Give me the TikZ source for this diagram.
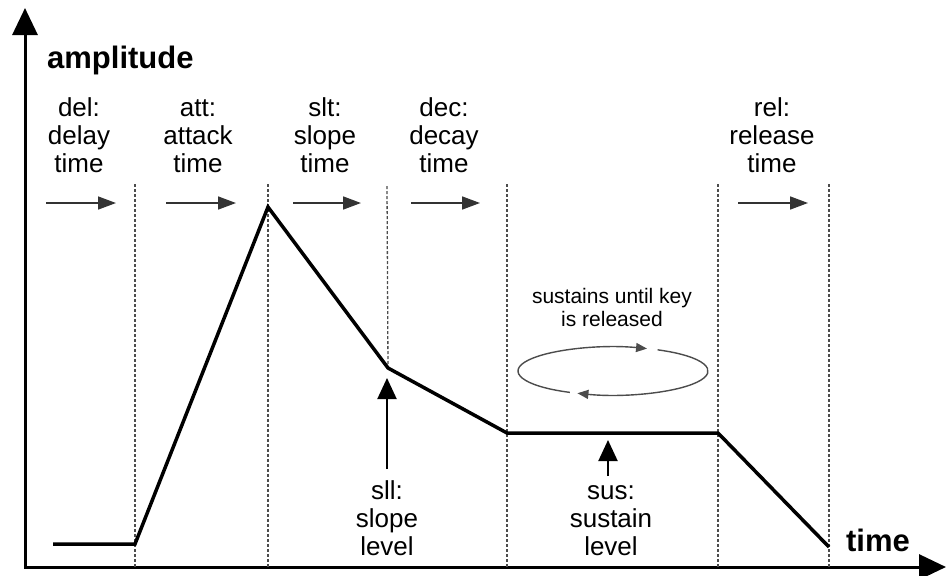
\documentclass[tikz,border=0pt]{standalone}
\usepackage{fontspec}
\setmainfont{Liberation Sans}
\usetikzlibrary{arrows.meta}
\begin{document}
\begin{tikzpicture}[x=1pt,y=-1pt,
  axisline/.style={line width=3pt,line join=miter,
    {Triangle[length=27pt,width=25pt]}-{Triangle[length=27pt,width=25pt]}},
  envelope/.style={line width=3.5pt,line join=miter},
  divider/.style={line width=1.3pt,draw=black!70,dash pattern=on 3pt off 2pt},
  spanarrow/.style={line width=1.6pt,draw=black!80,-{Triangle[length=18pt,width=13pt]}},
  levelarrow/.style={line width=2pt,-{Triangle[length=21pt,width=19pt]}},
  looparc/.style={line width=1.4pt,draw=black!70,-{Triangle[length=11pt,width=9pt]}},
  colhead/.style={inner sep=0pt,align=center,anchor=north,
    font=\fontsize{26}{28}\selectfont},
  axislabel/.style={inner sep=0pt,font=\fontsize{31}{34}\selectfont\bfseries},
  note/.style={inner sep=0pt,align=center,anchor=north,
    font=\fontsize{21}{23}\selectfont}]

\useasboundingbox (0,0) rectangle (946,576);

% axes
\coordinate (origin) at (25,567);
\coordinate (ytop) at (25,8);
\coordinate (xend) at (946,567);
\draw[axisline] (ytop) -- (origin) -- (xend);
\node[axislabel,anchor=west] (amp) at (47,60) {amplitude};
\node[axislabel] (tm) at (878,540) {time};

% phase boundaries
\foreach \n/\x in {b1/135,b2/268,b4/507,b5/718,b6/829}{
  \coordinate (\n top) at (\x,184);
  \coordinate (\n bot) at (\x,567);
  \draw[divider] (\n top) -- (\n bot);
}
\coordinate (b3top) at (387,186);

% envelope corners
\coordinate (e0) at (53,544);
\coordinate (e1) at (135,544);
\coordinate (e2) at (268,207);
\coordinate (e3) at (388,368);
\coordinate (e4) at (507,433);
\coordinate (e5) at (718,433);
\coordinate (e6) at (829,547);
\draw[divider] (b3top) -- (e3);
\draw[envelope] (e0) -- (e1) -- (e2) -- (e3) -- (e4) -- (e5) -- (e6);

% phase headings
\node[colhead] (del) at (79,97) {\strut del:\\delay\\time};
\node[colhead] (att) at (198,97) {\strut att:\\attack\\time};
\node[colhead] (slt) at (325,97) {\strut slt:\\slope\\time};
\node[colhead] (dec) at (444,97) {\strut dec:\\decay\\time};
\node[colhead] (rel) at (772,97) {\strut rel:\\release\\time};

% phase duration arrows
\foreach \n/\a/\b in {d/46/116,a/166/236,s/293/361,c/411/480,r/738/808}{
  \coordinate (\n0) at (\a,203);
  \coordinate (\n1) at (\b,203);
  \draw[spanarrow] (\n0) -- (\n1);
}

% level markers
\node[colhead] (sll) at (387,480) {\strut sll:\\slope\\level};
\node[colhead] (sus) at (611,480) {\strut sus:\\sustain\\level};
\coordinate (sllfoot) at (387,469);
\coordinate (slltip) at (387,378);
\coordinate (susfoot) at (608,476);
\coordinate (sustip) at (608,440);
\draw[levelarrow] (sllfoot) -- (slltip);
\draw[levelarrow] (susfoot) -- (sustip);

% sustain loop
\node[note] (loopnote) at (612,287) {\strut sustains until key\\is released};
\coordinate (loopc) at (613,371);
\draw[looparc] (loopc) ++(117:95 and 24) arc[start angle=117,end angle=291,x radius=95,y radius=24];
\draw[looparc] (loopc) ++(-62:95 and 24) arc[start angle=-62,end angle=112,x radius=95,y radius=24];
\end{tikzpicture}
\end{document}
